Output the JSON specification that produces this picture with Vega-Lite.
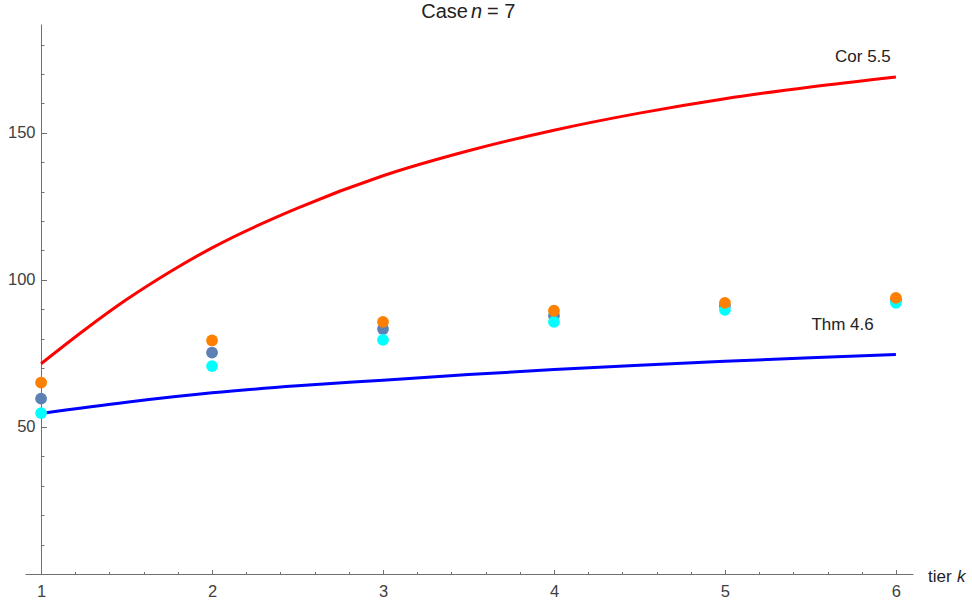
{
  "$schema": "https://vega.github.io/schema/vega-lite/v6.json",
  "width": 888,
  "height": 550,
  "autosize": {"type": "none"},
  "padding": {"left": 25, "top": 24, "right": 59, "bottom": 31},
  "config": {
    "view": {"stroke": null},
    "font": "Liberation Sans",
    "axis": {
      "grid": false,
      "title": null,
      "domainColor": "#707070",
      "tickColor": "#707070",
      "labelColor": "#404040",
      "labelFont": "Liberation Sans",
      "labelFontSize": 16.5,
      "labelFlush": false,
      "labelOverlap": false
    }
  },
  "datasets": {
    "cor": [
      {"k": 1, "v": 71.5},
      {"k": 1.25, "v": 82.8},
      {"k": 1.5, "v": 93.3},
      {"k": 1.75, "v": 102.6},
      {"k": 2, "v": 110.9},
      {"k": 2.5, "v": 124.4},
      {"k": 3, "v": 135.4},
      {"k": 3.5, "v": 143.9},
      {"k": 4, "v": 150.9},
      {"k": 4.5, "v": 156.7},
      {"k": 5, "v": 161.6},
      {"k": 5.5, "v": 165.6},
      {"k": 6, "v": 169.0}
    ],
    "thm": [
      {"k": 1, "v": 54.6},
      {"k": 1.5, "v": 58.4},
      {"k": 2, "v": 61.6},
      {"k": 2.5, "v": 64.0},
      {"k": 3, "v": 65.9},
      {"k": 3.5, "v": 67.8},
      {"k": 4, "v": 69.5},
      {"k": 4.5, "v": 71.0},
      {"k": 5, "v": 72.3},
      {"k": 5.5, "v": 73.5},
      {"k": 6, "v": 74.6}
    ],
    "pts": [
      {"k": 1, "v": 59.6, "s": "gray"},
      {"k": 2, "v": 75.3, "s": "gray"},
      {"k": 3, "v": 83.3, "s": "gray"},
      {"k": 4, "v": 87.8, "s": "gray"},
      {"k": 5, "v": 91.2, "s": "gray"},
      {"k": 6, "v": 93.2, "s": "gray"},
      {"k": 1, "v": 54.7, "s": "cyan"},
      {"k": 2, "v": 70.7, "s": "cyan"},
      {"k": 3, "v": 79.6, "s": "cyan"},
      {"k": 4, "v": 85.7, "s": "cyan"},
      {"k": 5, "v": 89.8, "s": "cyan"},
      {"k": 6, "v": 92.2, "s": "cyan"},
      {"k": 1, "v": 65.1, "s": "orange"},
      {"k": 2, "v": 79.4, "s": "orange"},
      {"k": 3, "v": 85.7, "s": "orange"},
      {"k": 4, "v": 89.5, "s": "orange"},
      {"k": 5, "v": 92.2, "s": "orange"},
      {"k": 6, "v": 93.9, "s": "orange"}
    ],
    "labels": [
      {"t": "Cor 5.5", "k": 5.807, "v": 175.8},
      {"t": "Thm 4.6", "k": 5.688, "v": 84.8}
    ],
    "title": [
      {"a": "Case", "b": "n", "c": "= 7", "k": 3.497, "v": 189}
    ],
    "xtitle": [
      {"a": "tier", "b": "k", "k": 6.188, "v": -2.6}
    ]
  },
  "layer": [
    {
      "data": {"name": "cor"},
      "mark": {"type": "line", "color": "#FF0000", "strokeWidth": 3, "interpolate": "monotone"},
      "encoding": {
        "x": {
          "field": "k", "type": "quantitative",
          "scale": {"domain": [0.906, 6.1], "nice": false, "zero": false},
          "axis": {"orient": "bottom", "values": [1, 2, 3, 4, 5, 6], "tickSize": -4.5, "labelPadding": 13.5, "domain": true}
        },
        "y": {
          "field": "v", "type": "quantitative",
          "scale": {"domain": [0, 187], "nice": false, "zero": false},
          "axis": {"orient": "left", "values": [50, 100, 150], "tickSize": -5.5, "labelPadding": 11.5, "offset": -16, "domain": true}
        }
      }
    },
    {
      "data": {"name": "thm"},
      "mark": {"type": "line", "color": "#0000FF", "strokeWidth": 3, "interpolate": "monotone"},
      "encoding": {
        "x": {"field": "k", "type": "quantitative", "axis": null},
        "y": {"field": "v", "type": "quantitative", "axis": null}
      }
    },
    {
      "data": {"name": "pts"},
      "mark": {"type": "circle", "size": 139, "opacity": 1},
      "encoding": {
        "x": {
          "field": "k", "type": "quantitative",
          "axis": {"orient": "bottom", "values": [1.2, 1.4, 1.6, 1.8, 2.2, 2.4, 2.6, 2.8, 3.2, 3.4, 3.6, 3.8, 4.2, 4.4, 4.6, 4.8, 5.2, 5.4, 5.6, 5.8], "tickSize": -2.5, "labels": false, "domain": false}
        },
        "y": {
          "field": "v", "type": "quantitative",
          "axis": {"orient": "left", "values": [10, 20, 30, 40, 60, 70, 80, 90, 110, 120, 130, 140, 160, 170, 180], "tickSize": -3, "labels": false, "domain": false, "offset": -16}
        },
        "color": {
          "field": "s", "type": "nominal",
          "scale": {"domain": ["gray", "cyan", "orange"], "range": ["#5E81B5", "#00FFFF", "#FF8000"]},
          "legend": null
        }
      }
    },
    {
      "data": {"name": "labels"},
      "mark": {"type": "text", "fontSize": 17, "color": "#222222", "align": "center", "baseline": "middle", "font": "Liberation Sans"},
      "encoding": {
        "x": {"field": "k", "type": "quantitative", "axis": null},
        "y": {"field": "v", "type": "quantitative", "axis": null},
        "text": {"field": "t"}
      }
    },
    {
      "data": {"name": "title"},
      "layer": [
        {
          "mark": {"type": "text", "fontSize": 20, "color": "#222222", "align": "right", "baseline": "alphabetic", "clip": false},
          "encoding": {
            "x": {"field": "k", "type": "quantitative", "axis": null},
            "y": {"field": "v", "type": "quantitative", "axis": null},
            "text": {"field": "a"}
          }
        },
        {
          "mark": {"type": "text", "fontSize": 20, "color": "#222222", "align": "left", "baseline": "alphabetic", "fontStyle": "italic", "dx": 3, "clip": false},
          "encoding": {
            "x": {"field": "k", "type": "quantitative", "axis": null},
            "y": {"field": "v", "type": "quantitative", "axis": null},
            "text": {"field": "b"}
          }
        },
        {
          "mark": {"type": "text", "fontSize": 20, "color": "#222222", "align": "left", "baseline": "alphabetic", "dx": 19, "clip": false},
          "encoding": {
            "x": {"field": "k", "type": "quantitative", "axis": null},
            "y": {"field": "v", "type": "quantitative", "axis": null},
            "text": {"field": "c"}
          }
        }
      ]
    },
    {
      "data": {"name": "xtitle"},
      "layer": [
        {
          "mark": {"type": "text", "fontSize": 17, "color": "#222222", "align": "left", "baseline": "alphabetic", "clip": false},
          "encoding": {
            "x": {"field": "k", "type": "quantitative", "axis": null},
            "y": {"field": "v", "type": "quantitative", "axis": null},
            "text": {"field": "a"}
          }
        },
        {
          "mark": {"type": "text", "fontSize": 17, "color": "#222222", "align": "left", "baseline": "alphabetic", "fontStyle": "italic", "dx": 29, "clip": false},
          "encoding": {
            "x": {"field": "k", "type": "quantitative", "axis": null},
            "y": {"field": "v", "type": "quantitative", "axis": null},
            "text": {"field": "b"}
          }
        }
      ]
    }
  ],
  "resolve": {"axis": {"x": "independent", "y": "independent"}}
}
